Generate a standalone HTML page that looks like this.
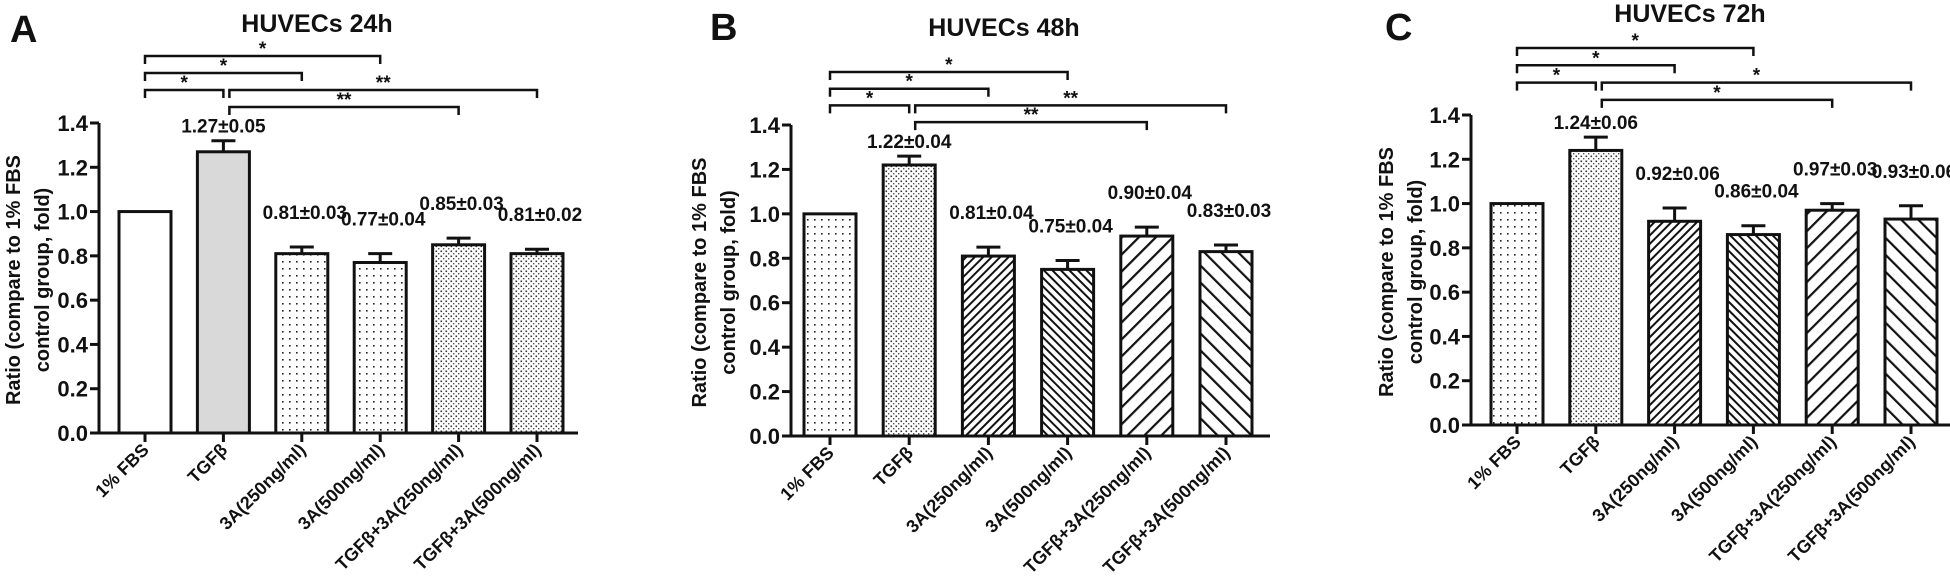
<!DOCTYPE html>
<html><head><meta charset="utf-8"><style>
html,body{margin:0;padding:0;background:#fff;overflow:hidden;}
svg{display:block;font-family:"Liberation Sans",Arial,sans-serif;font-weight:bold;}
</style></head><body>
<svg id="fig" width="1950" height="578" viewBox="0 0 1950 578" xmlns="http://www.w3.org/2000/svg">
<defs>
<pattern id="dotS" width="7" height="7" patternUnits="userSpaceOnUse"><rect width="7" height="7" fill="#fff"/><rect x="2" y="2" width="1.6" height="1.6" fill="#222"/></pattern>
<pattern id="dotD" width="5" height="5" patternUnits="userSpaceOnUse"><rect width="5" height="5" fill="#fff"/><rect x="0.5" y="0.5" width="1.6" height="1.6" fill="#333"/><rect x="3" y="3" width="1.4" height="1.4" fill="#555"/></pattern>
<pattern id="hatchFD" width="6" height="6" patternUnits="userSpaceOnUse" patternTransform="rotate(45)"><rect width="6" height="6" fill="#fff"/><rect x="0" y="0" width="2" height="6" fill="#111"/></pattern>
<pattern id="hatchBD" width="6" height="6" patternUnits="userSpaceOnUse" patternTransform="rotate(-45)"><rect width="6" height="6" fill="#fff"/><rect x="0" y="0" width="2" height="6" fill="#111"/></pattern>
<pattern id="hatchFW" width="12" height="12" patternUnits="userSpaceOnUse" patternTransform="rotate(45)"><rect width="12" height="12" fill="#fff"/><rect x="0" y="0" width="2.2" height="12" fill="#111"/></pattern>
<pattern id="hatchBW" width="12" height="12" patternUnits="userSpaceOnUse" patternTransform="rotate(-45)"><rect width="12" height="12" fill="#fff"/><rect x="0" y="0" width="2.2" height="12" fill="#111"/></pattern>
</defs>
</svg>
<script>
const categories = ["1% FBS","TGF\u03b2","3A(250ng/ml)","3A(500ng/ml)","TGF\u03b2+3A(250ng/ml)","TGF\u03b2+3A(500ng/ml)"];
const yTicks = [0,0.2,0.4,0.6,0.8,1.0,1.2,1.4];
const valuesA = [1.00,1.27,0.81,0.77,0.85,0.81];
const errorsA = [0,0.05,0.03,0.04,0.03,0.02];
const valuesB = [1.00,1.22,0.81,0.75,0.90,0.83];
const errorsB = [0,0.04,0.04,0.04,0.04,0.03];
const valuesC = [1.00,1.24,0.92,0.86,0.97,0.93];
const errorsC = [0,0.06,0.06,0.04,0.03,0.06];
const sigA = [[0,3,"*"],[0,2,"*"],[0,1,"*"],[1,5,"**"],[1,4,"**"]];
const sigB = [[0,3,"*"],[0,2,"*"],[0,1,"*"],[1,5,"**"],[1,4,"**"]];
const sigC = [[0,3,"*"],[0,2,"*"],[0,1,"*"],[1,5,"*"],[1,4,"*"]];

const NS="http://www.w3.org/2000/svg";
const svg=document.getElementById('fig');
function mk(tag,attrs,parent){const e=document.createElementNS(NS,tag);for(const k in attrs)e.setAttribute(k,attrs[k]);(parent||svg).appendChild(e);return e;}

const panels=[
 {id:"a",letter:"A",title:"HUVECs 24h",vals:valuesA,errs:errorsA,sig:sigA,axisX:99,x0:145,step:78.4,yTop:123,yBot:433,xEnd:578,titleX:317,titleY:32,letX:10,letY:42,labX:20,brTop:56,brStep:17,fills:["#fff","#d9d9d9","url(#dotS)","url(#dotS)","url(#dotD)","url(#dotD)"]},
 {id:"b",letter:"B",title:"HUVECs 48h",vals:valuesB,errs:errorsB,sig:sigB,axisX:791,x0:830,step:79.2,yTop:125,yBot:436,xEnd:1270,titleX:1004,titleY:36,letX:710,letY:40,labX:706,brTop:72,brStep:16.7,fills:["url(#dotS)","url(#dotD)","url(#hatchFD)","url(#hatchBD)","url(#hatchFW)","url(#hatchBW)"]},
 {id:"c",letter:"C",title:"HUVECs 72h",vals:valuesC,errs:errorsC,sig:sigC,axisX:1471,x0:1517,step:78.8,yTop:115,yBot:425,xEnd:1950,titleX:1690,titleY:22,letX:1385,letY:40,labX:1393,brTop:48,brStep:17.3,fills:["url(#dotS)","url(#dotD)","url(#hatchFD)","url(#hatchBD)","url(#hatchFW)","url(#hatchBW)"]}
];

panels.forEach(p=>{
  const g=mk('g',{});
  
  
  const y=v=>p.yBot-(v/1.4)*(p.yBot-p.yTop);
  const x=i=>p.x0+i*p.step;
  const bw=52;
  const L=mk('text',{x:p.letX,y:p.letY,'font-size':38,fill:'#111'},g);L.textContent=p.letter;
  
  
  const T=mk('text',{x:p.titleX,y:p.titleY,'font-size':25,'text-anchor':'middle',fill:'#111'},g);T.textContent=p.title;
  
  
  const ly=(p.yTop+p.yBot)/2+2;
  const yl=mk('text',{transform:`translate(${p.labX},${ly}) rotate(-90)`,'font-size':20,'text-anchor':'middle',fill:'#111'},g);
  
  
  const t1=mk('tspan',{x:0,dy:0},yl);t1.textContent="Ratio (compare to 1% FBS";
  const t2=mk('tspan',{x:0,dy:29},yl);t2.textContent="control group, fold)";
  p.vals.forEach((v,i)=>{
    const b=mk('rect',{x:x(i)-bw/2,y:y(v),width:bw,height:p.yBot-y(v),fill:p.fills[i],stroke:'#111','stroke-width':3},g);
    
    
    if(p.errs[i]>0){
      const e=p.errs[i];
      const eb=mk('path',{d:`M${x(i)},${y(v)} V${y(v+e)} M${x(i)-12},${y(v+e)} H${x(i)+12}`,stroke:'#111','stroke-width':3,fill:'none'},g);
      
      
      const vl=mk('text',{x:x(i)+(i>1?3:0),y:y(v+e)-(i==1?8:28),'font-size':19,'text-anchor':'middle',fill:'#111'},g);
      vl.textContent=v.toFixed(2)+"\u00b1"+e.toFixed(2);
      
      
    }
    const tk=mk('line',{x1:x(i),x2:x(i),y1:p.yBot,y2:p.yBot+9,stroke:'#111','stroke-width':3},g);
    
    
    const xl=mk('text',{transform:`translate(${x(i)+5},${p.yBot+18}) rotate(-45)`,'font-size':18,'text-anchor':'end',fill:'#111'},g);
    xl.textContent=categories[i];
    
    
  });
  const ax=mk('path',{d:`M${p.axisX},${p.yTop} V${p.yBot} H${p.xEnd}`,stroke:'#111','stroke-width':3,fill:'none'},g);
  
  
  yTicks.forEach(t=>{
    const tl=mk('line',{x1:p.axisX-9,x2:p.axisX,y1:y(t),y2:y(t),stroke:'#111','stroke-width':3},g);
    
    
    const tt=mk('text',{x:p.axisX-11,y:y(t)+8,'font-size':22,'text-anchor':'end',fill:'#111'},g);
    tt.textContent=t.toFixed(1);
    
    
  });
  const levels=[0,1,2,2,3];
  p.sig.forEach((s,k)=>{
    const ly2=p.brTop+levels[k]*p.brStep;
    const xa=x(s[0])+(s[0]>0?6:0), xb=x(s[1]);
    const br=mk('path',{d:`M${xa},${ly2+8} V${ly2} H${xb} V${ly2+8}`,stroke:'#111','stroke-width':2.5,fill:'none'},g);
    
    
    const st=mk('text',{x:(xa+xb)/2,y:ly2-1,'font-size':19,'text-anchor':'middle',fill:'#111'},g);
    st.textContent=s[2];
    
    
  });
});
</script>
</body></html>
